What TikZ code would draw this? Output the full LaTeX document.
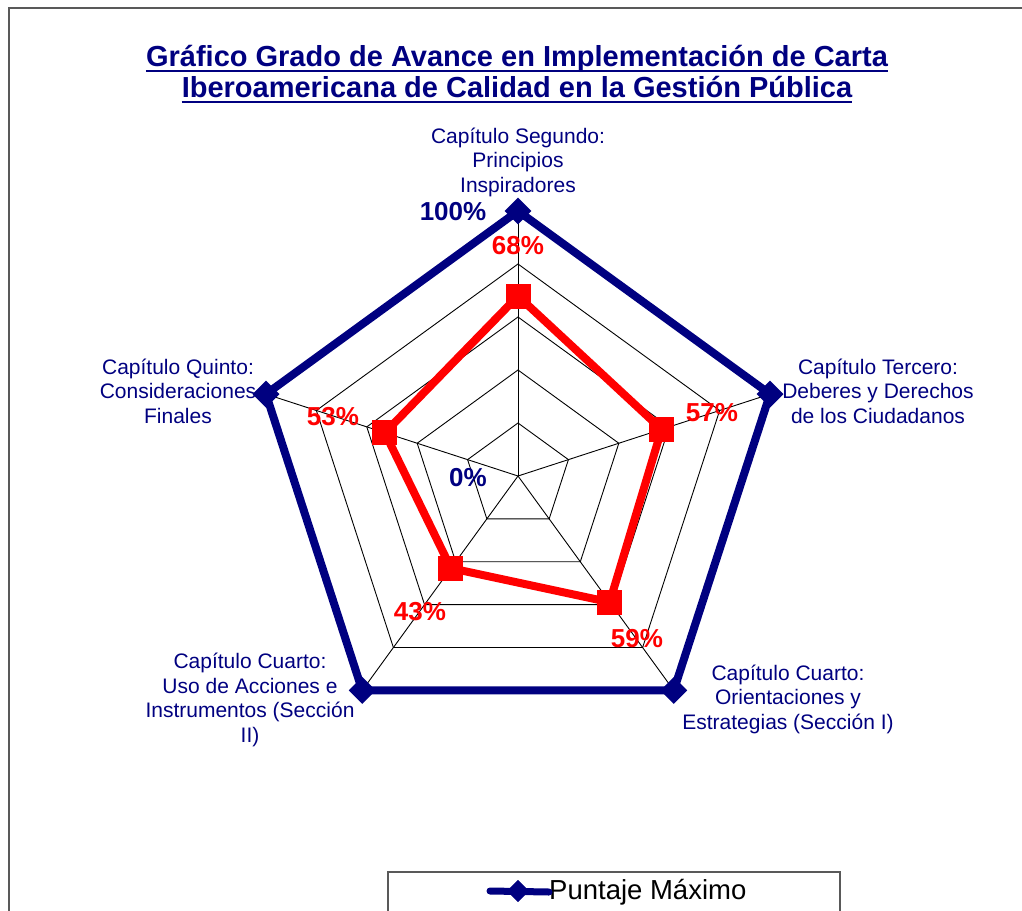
\documentclass[tikz,border=0pt]{standalone}
\usepackage{fontspec}
\setmainfont{Liberation Sans}
\usetikzlibrary{shapes.geometric}

\definecolor{navy}{RGB}{0,0,128}
\definecolor{chartred}{RGB}{255,0,0}

\begin{document}
\begin{tikzpicture}[x=1pt, y=-1pt]
    \tikzset{
      axislabel/.style={text=navy, align=center, inner sep=0,
                        font=\fontsize{21}{24.5}\selectfont},
      pctred/.style={text=chartred, inner sep=0,
                     font=\bfseries\fontsize{26}{28}\selectfont},
      pctnavy/.style={text=navy, inner sep=0,
                      font=\bfseries\fontsize{26}{28}\selectfont},
      maxmark/.style={diamond, fill=navy, inner sep=0, minimum size=27},
      valmark/.style={rectangle, fill=chartred, inner sep=0, minimum size=25},
      gridline/.style={black, line width=0.9},
    }
    \useasboundingbox (0,0) rectangle (1022,910);
    % frame
    \draw[gray!70!black, line width=2] (9,920) -- (9,8) -- (1030,8);

    % title
    \node[text=navy, font=\bfseries\fontsize{29}{31}\selectfont, inner sep=0, anchor=base]
      (title1) at (517,66) {Gráfico Grado de Avance en Implementación de Carta};
    \node[text=navy, font=\bfseries\fontsize{29}{31}\selectfont, inner sep=0, anchor=base]
      (title2) at (517,97) {Iberoamericana de Calidad en la Gestión Pública};
    \draw[navy, line width=2.5] ([yshift=-5]title1.base west) -- ([yshift=-5]title1.base east);
    \draw[navy, line width=2.5] ([yshift=-5]title2.base west) -- ([yshift=-5]title2.base east);

    % radar
    \begin{scope}[shift={(518,476)}, yscale=-1]
      \coordinate (c) at (0,0);
      \foreach \k in {1,...,4}
        \draw[gridline] (90:\k*53) -- (18:\k*53) -- (-54:\k*53)
                        -- (-126:\k*53) -- (162:\k*53) -- cycle;
      \foreach \a in {90,18,-54,-126,162}
        \draw[gridline] (c) -- (\a:265);

      \coordinate (m1) at (90:265);
      \coordinate (m2) at (18:265);
      \coordinate (m3) at (-54:265);
      \coordinate (m4) at (-126:265);
      \coordinate (m5) at (162:265);
      \draw[navy, line width=8, line join=miter]
        (m1) -- (m2) -- (m3) -- (m4) -- (m5) -- cycle;
      \foreach \i in {1,...,5}
        \node[maxmark] (max\i) at (m\i) {};

      \coordinate (v1) at (90:180);
      \coordinate (v2) at (18:151);
      \coordinate (v3) at (-54:156);
      \coordinate (v4) at (-126:114);
      \coordinate (v5) at (162:140);
      \draw[chartred, line width=8, line join=miter]
        (v1) -- (v2) -- (v3) -- (v4) -- (v5) -- cycle;
      \foreach \i in {1,...,5}
        \node[valmark] (val\i) at (v\i) {};
    \end{scope}

    % axis labels
    \node[axislabel] (ax1) at (518,162) {Capítulo Segundo:\\Principios\\Inspiradores};
    \node[axislabel] (ax2) at (878,391) {Capítulo Tercero:\\Deberes y Derechos\\de los Ciudadanos};
    \node[axislabel] (ax3) at (788,699) {Capítulo Cuarto:\\Orientaciones y\\Estrategias (Sección I)};
    \node[axislabel] (ax4) at (250,700) {Capítulo Cuarto:\\Uso de Acciones e\\Instrumentos (Sección\\II)};
    \node[axislabel] (ax5) at (178,391) {Capítulo Quinto:\\Consideraciones\\Finales};

    % value labels
    \node[pctnavy] (hundred) at (453,212) {100\%};
    \node[pctnavy] (zero)    at (468,478) {0\%};
    \node[pctred] (lab1) at (518,246) {68\%};
    \node[pctred] (lab2) at (712,413) {57\%};
    \node[pctred] (lab3) at (637,639) {59\%};
    \node[pctred] (lab4) at (420,612) {43\%};
    \node[pctred] (lab5) at (333,417) {53\%};

    % legend
    \draw[gray!70!black, line width=2] (388,920) -- (388,872) -- (840,872) -- (840,920);
    \coordinate (legA) at (490,891);
    \node[maxmark, minimum size=22] (legmark) at (518,891) {};
    \node[anchor=west, inner sep=0, font=\fontsize{27.5}{30}\selectfont] (legtext) at (549,892) {Puntaje Máximo};
    \draw[navy, line width=7, line cap=round] (legA) -- (legtext.west);
    \node[maxmark, minimum size=22] at (legmark) {};
\end{tikzpicture}
\end{document}
